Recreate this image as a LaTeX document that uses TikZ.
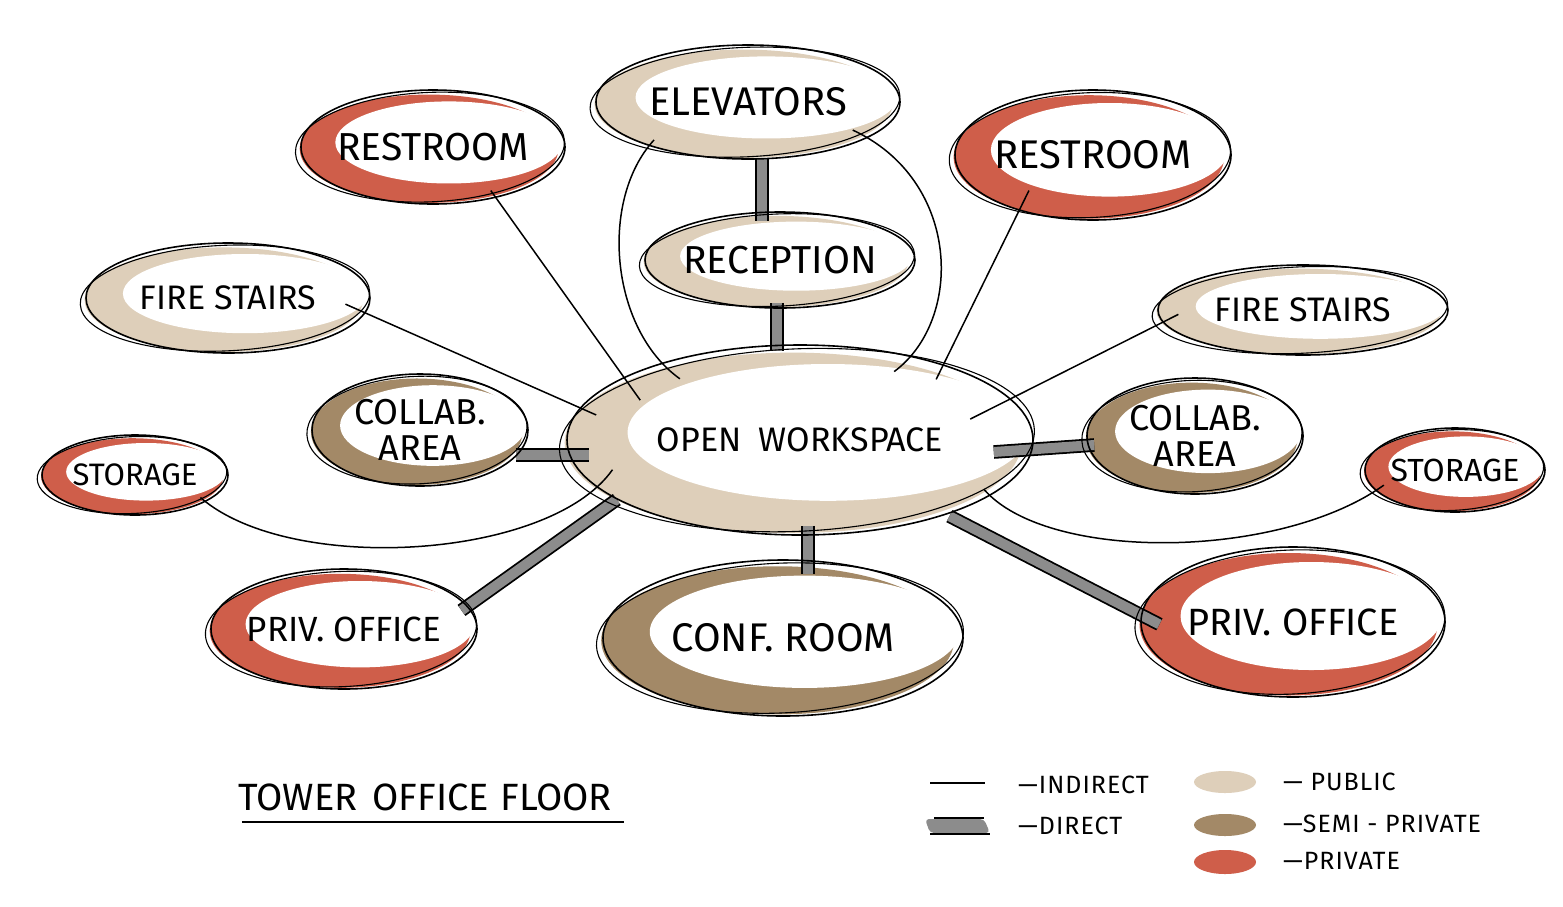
\documentclass[tikz,border=0pt]{standalone}
\usepackage{fontspec}
\setmainfont{Fira Sans}
\usetikzlibrary{calc,shapes.geometric}
\definecolor{pubc}{RGB}{222,207,186}
\definecolor{semic}{RGB}{163,137,103}
\definecolor{privc}{RGB}{207,94,74}
\definecolor{dgray}{RGB}{140,140,140}
\pgfdeclarelayer{fills}\pgfdeclarelayer{conn}
\pgfsetlayers{fills,conn,main}
\tikzset{
  bub/.style={ellipse, draw, line width=1.6pt, inner sep=0pt},
  outl/.style={line width=1.1pt},
  ind/.style={line width=1.5pt},
  direct/.style={double=dgray, double distance=10pt, line width=1.8pt},
  lbl/.style={font=\fontsize{25}{25}\selectfont\addfontfeature{LetterSpace=4}, anchor=west, inner sep=0pt}
}
\newcommand\bubble[8]{%
  \node[bub, minimum width={2*#4pt}, minimum height={2*#5pt}] (#1) at (#2,#3) {};
  \begin{pgfonlayer}{fills}
    \fill[#6] ({#2-0.03*#4},{#3+0.03*#5}) ellipse [x radius={0.98*#4pt}, y radius={0.95*#5pt}];
    \fill[white] ({#2+0.12*#4},{#3-0.08*#5}) ellipse [x radius={0.86*#4pt}, y radius={0.72*#5pt}];
  \end{pgfonlayer}
  \draw[outl, rotate around={2.5:(#1.center)}] ([xshift=-3pt]#1.center) ellipse [x radius={1.02*#4pt}, y radius={0.96*#5pt}];
  \node[font=\fontsize{#7}{#7}\selectfont, align=center, inner sep=0pt] (#1t) at (#1.center) {#8};
}
\begin{document}
\begin{tikzpicture}[x=1pt,y=-1pt]
\useasboundingbox (0,0) rectangle (1563,906);
\begin{pgfonlayer}{fills}
\fill[white] (0,0) rectangle (1563,906);
\end{pgfonlayer}

\bubble{elev}{748}{102}{152}{57}{pubc}{40}{ELEVATORS}
\bubble{rec}{780}{260}{135}{48}{pubc}{39}{RECEPTION}
\bubble{ws}{800}{440}{233}{95}{pubc}{34}{OPEN\hspace{0.5em}WORKSPACE}
\bubble{rrL}{433}{147}{132}{57}{privc}{39}{RESTROOM}
\bubble{rrR}{1093}{155}{138}{65}{privc}{40}{RESTROOM}
\bubble{fsL}{228}{298}{142}{55}{pubc}{34}{FIRE STAIRS}
\bubble{fsR}{1303}{310}{145}{45}{pubc}{34}{FIRE STAIRS}
\bubble{colL}{420}{430}{108}{56}{semic}{36}{COLLAB.\\AREA}
\bubble{colR}{1195}{436}{108}{58}{semic}{36}{COLLAB.\\AREA}
\bubble{stL}{135}{475}{93}{40}{privc}{31}{STORAGE}
\bubble{stR}{1455}{470}{90}{42}{privc}{32}{STORAGE}
\bubble{poL}{344}{629}{133}{60}{privc}{35}{PRIV. OFFICE}
\bubble{conf}{783}{638}{180}{78}{semic}{40}{CONF. ROOM}
\bubble{poR}{1293}{622}{152}{75}{privc}{38}{PRIV. OFFICE}

\begin{pgfonlayer}{conn}
% indirect
\draw[ind] ($(rrL.center)!0.87!(rrL.-37)$) -- ($(ws.center)!0.80!(ws.166)$);
\draw[ind] ($(fsL.center)!0.83!(fsL.-3)$) -- ($(ws.center)!0.91!(ws.173)$);
\draw[ind] ($(stL.center)!0.89!(stL.-19)$) .. controls +(90,78) and +(-63,90) .. ($(ws.center)!0.86!(ws.189)$);
\draw[ind] ($(elev.center)!0.90!(elev.202)$) .. controls +(-55,60) and +(-70,-50) .. ($(ws.center)!0.82!(ws.153)$);
\draw[ind] ($(elev.center)!0.84!(elev.-15)$) .. controls +(108,50) and +(70,-52) .. ($(ws.center)!0.82!(ws.36)$);
\draw[ind] ($(rrR.center)!0.71!(rrR.209)$) -- ($(ws.center)!0.86!(ws.24)$);
\draw[ind] ($(fsR.center)!0.86!(fsR.182)$) -- ($(ws.center)!0.76!(ws.7)$);
\draw[ind] ($(stR.center)!0.86!(stR.192)$) .. controls +(-105,75) and +(63,73) .. ($(ws.center)!0.94!(ws.-15)$);
% direct
\draw[direct] ($(elev.south)+(14,-2)$) -- ($(rec.north)+(-18,10)$);
\draw[direct] ($(rec.south)+(-3,-6)$) -- ($(ws.north)+(-23,7)$);
\draw[direct] ($(colL.east)+(-13,25)$) -- ($(ws.west)+(23,15)$);
\draw[direct] ($(ws.east)+(-40,12)$) -- ($(colR.west)+(8,9)$);
\draw[direct] ($(ws.south)+(8,-10)$) -- ($(conf.north)+(25,15)$);
\draw[direct] ($(ws.center)!1.0!(ws.198)$) -- ($(poL.center)!0.93!(poL.9)$);
\draw[direct] ($(ws.center)!1.02!(ws.-27)$) -- ($(poR.center)!0.875!(poR.181)$);
\end{pgfonlayer}

% title
\node[font=\fontsize{38}{38}\selectfont, inner sep=0pt] (title) at (425,797) {TOWER\hspace{0.4em}OFFICE\hspace{0.3em}FLOOR};
\draw[line width=2.4pt] ($(title.south west)+(4,11)$) -- ($(title.south east)+(12,11)$);

% legend
\coordinate (li1) at (930,783); \coordinate (li2) at (985,783);
\draw[ind] (li1) -- (li2);
\node[lbl] (lind) at (1018,785) {—INDIRECT};
\fill[dgray, rounded corners=4pt] (925,819) -- (984,819) -- (990,833) -- (930,833) -- cycle;
\draw[line width=2.2pt] (934,818) -- (984,818);
\draw[line width=2.2pt] (930,834) -- (990,834);
\node[lbl] (ldir) at (1018,826) {—DIRECT};
\fill[pubc] (1225,782) ellipse [x radius=31pt, y radius=11pt];
\node[lbl] (lpub) at (1283,782) {— PUBLIC};
\fill[semic] (1225,825) ellipse [x radius=31pt, y radius=11pt];
\node[lbl] (lsemi) at (1283,824) {—SEMI - PRIVATE};
\fill[privc] (1225,862) ellipse [x radius=31pt, y radius=12pt];
\node[lbl] (lpriv) at (1283,861) {—PRIVATE};
\end{tikzpicture}
\end{document}
